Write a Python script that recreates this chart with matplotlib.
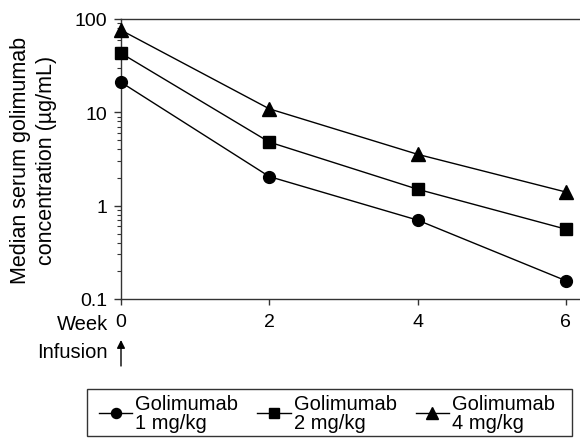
import numpy as np
import matplotlib
matplotlib.use('Agg')
import matplotlib.pyplot as plt
from matplotlib.patches import Rectangle
from matplotlib.ticker import FixedLocator, FixedFormatter, LogLocator, NullFormatter

# data
weeks = [0, 2, 4, 6]
dose_1 = [21, 2.05, 0.70, 0.157]
dose_2 = [43, 4.8, 1.5, 0.56]
dose_4 = [76, 10.9, 3.55, 1.4]
labels = ['Golimumab\n1 mg/kg', 'Golimumab\n2 mg/kg', 'Golimumab\n4 mg/kg']
yticks = [0.1, 1, 10, 100]
yticklabels = ['0.1', '1', '10', '100']

plt.rcParams['font.family'] = ['Liberation Sans', 'DejaVu Sans']
plt.rcParams['font.size'] = 14.5

W, H = 580, 439
fig = plt.figure(figsize=(W / 100, H / 100), dpi=100)
ax = fig.add_axes([121 / W, 1 - 300 / H, 459 / W, 280 / H])

lines = []
for vals, mk, ms in zip([dose_1, dose_2, dose_4], ['o', 's', '^'], [8.5, 8, 9.5]):
    l, = ax.plot(weeks, vals, color='black', lw=1.0, marker=mk, ms=ms,
                 clip_on=False, zorder=3)
    lines.append(l)

ax.set_yscale('log')
ax.set_ylim(0.1, 100)
ax.set_xlim(0, 6.19)
ax.yaxis.set_major_locator(FixedLocator(yticks))
ax.yaxis.set_major_formatter(FixedFormatter(yticklabels))
ax.yaxis.set_minor_locator(LogLocator(base=10, subs=np.arange(2, 10)))
ax.yaxis.set_minor_formatter(NullFormatter())
ax.set_xticks(weeks)
ax.set_xticklabels([str(w) for w in weeks])

ax.spines['right'].set_visible(False)
for s in ['left', 'bottom', 'top']:
    ax.spines[s].set_color('#333333')
    ax.spines[s].set_linewidth(1.0)
ax.tick_params(axis='x', which='major', length=4.5, width=1.0, colors='#333333',
               labelcolor='black', pad=5.5, labelsize=14)
ax.tick_params(axis='y', which='major', length=5, width=1.0, colors='#333333',
               labelcolor='black', pad=5, labelsize=14)
ax.tick_params(axis='y', which='minor', length=3, width=0.8, colors='#333333')

ax.set_ylabel('Median serum golimumab\nconcentration (\u00b5g/mL)',
              fontsize=15.5, linespacing=1.3)
ax.yaxis.set_label_coords(-0.139, 0.5)

# week / infusion annotations
fig.text(108 / W, 1 - 325 / H, 'Week', ha='right', va='center')
fig.text(108 / W, 1 - 353 / H, 'Infusion', ha='right', va='center')
ax.annotate('', xy=(0, 1 - 341 / H), xytext=(0, 1 - 367 / H),
            xycoords=('data', 'figure fraction'),
            textcoords=('data', 'figure fraction'),
            arrowprops=dict(arrowstyle='-|>', color='black', lw=1.0,
                            mutation_scale=12, shrinkA=0, shrinkB=0))

# legend, with its box drawn separately
leg = fig.legend(lines, labels, ncol=3, loc='upper left',
                 bbox_to_anchor=(99 / W, 1 - 395 / H),
                 frameon=False, handlelength=1.65, handletextpad=0.15,
                 borderpad=0, borderaxespad=0, columnspacing=0.95,
                 labelspacing=0.2, markerscale=0.85)
for t in leg.get_texts():
    t.set_linespacing(1.0)
fig.patches.append(Rectangle((87 / W, 2 / H), 485 / W, 47 / H,
                             transform=fig.transFigure, fill=False,
                             edgecolor='#333333', lw=1.0))

fig.savefig('out.png', dpi=100)
